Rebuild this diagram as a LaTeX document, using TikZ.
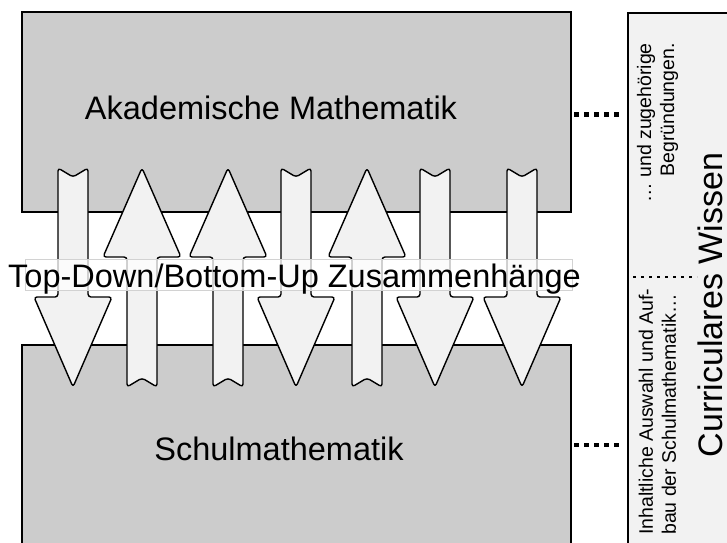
\documentclass[tikz,border=0pt]{standalone}
\usepackage{fontspec}
\setmainfont{Liberation Sans}
\definecolor{boxgray}{HTML}{CCCCCC}
\definecolor{lightfill}{HTML}{F2F2F2}
\begin{document}
\begin{tikzpicture}[x=1pt,y=-1pt,
  bigbox/.style={draw=black,line width=1.5pt,fill=boxgray,rectangle,inner sep=0pt},
  sidebox/.style={draw=black,line width=1.5pt,fill=lightfill,rectangle,inner sep=0pt},
  arrowshape/.style={draw=black,line width=1.4pt,fill=lightfill,rounded corners=3pt,line join=round},
  bigtext/.style={font=\fontsize{32.5}{38}\selectfont,inner sep=0pt},
  smalltext/.style={font=\fontsize{19.5}{23}\selectfont,inner sep=0pt,rotate=90},
  bigdots/.style={line width=4.5pt,dash pattern=on 4.5pt off 5.5pt},
  smalldots/.style={line width=2.6pt,dash pattern=on 2.6pt off 5.4pt},
  downarr/.pic={\path[arrowshape] (-15,168) -- (0,177) -- (15,168) -- (15,297) -- (39,297) -- (0,387) -- (-39,297) -- (-15,297) -- cycle;},
  uparr/.pic={\path[arrowshape] (0,168) -- (39,257) -- (15,257) -- (15,387) -- (0,378) -- (-15,387) -- (-15,257) -- (-39,257) -- cycle;}
]
\useasboundingbox (0,0) rectangle (727,542);
\clip (0,0) rectangle (727,542);
% big boxes
\node[bigbox,minimum width=549pt,minimum height=200pt] (akad) at (296.5,112) {};
\node[bigbox,minimum width=549pt,minimum height=255pt] (schul) at (296.5,472.5) {};
\node[bigtext,anchor=base] (akadtxt) at (271,119) {Akademische Mathematik};
\node[bigtext,anchor=base] (schultxt) at (279,460) {Schulmathematik};
% arrows
\pic at (73,0) {downarr};
\pic at (142,0) {uparr};
\pic at (228,0) {uparr};
\pic at (296,0) {downarr};
\pic at (367,0) {uparr};
\pic at (435,0) {downarr};
\pic at (522,0) {downarr};
% label
\node[rectangle,draw=gray!35,line width=0.6pt,fill=white,fill opacity=0.72,minimum width=547pt,minimum height=31pt,inner sep=0pt] (lblbg) at (298.5,274.5) {};
\node[bigtext,anchor=base] (lbl) at (294.5,287) {Top-Down/Bottom-Up Zusammenh\"ange};
% right box
\node[sidebox,minimum width=120pt,minimum height=600pt] (curr) at (688,313) {};
\node[font=\fontsize{34}{40}\selectfont,inner sep=0pt,rotate=90,anchor=base] (currtxt) at (722,305) {Curriculares Wissen};
\node[smalltext,anchor=east,align=right] (toptxt) at (657.5,43) {\dots\ und zugeh\"orige\\Begr\"undungen.};
\node[smalltext,anchor=west,align=left] (bottxt) at (657.5,535) {Inhaltliche Auswahl und Auf-\\bau der Schulmathematik\dots};
% dotted connectors
\coordinate (tdot) at (0,114.5);
\coordinate (bdot) at (0,445);
\draw[bigdots] ([xshift=2.5pt]akad.east |- tdot) -- ([xshift=-5pt]curr.west |- tdot);
\draw[bigdots] ([xshift=2.5pt]schul.east |- bdot) -- ([xshift=-5pt]curr.west |- bdot);
\coordinate (mdotA) at (633,277);
\coordinate (mdotB) at (697,277);
\draw[smalldots] (mdotA) -- (mdotB);
\end{tikzpicture}
\end{document}
